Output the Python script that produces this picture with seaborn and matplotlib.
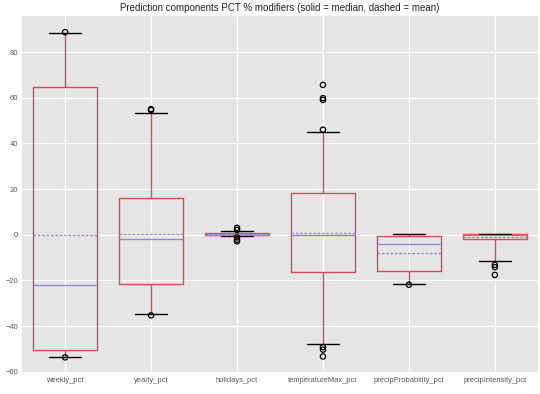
import matplotlib
matplotlib.use("Agg")
import matplotlib.pyplot as plt
import numpy as np
import pandas as pd
import seaborn as sns

categories = ["weekly_pct", "yearly_pct", "holidays_pct", "temperatureMax_pct",
              "precipProbability_pct", "precipIntensity_pct"]

# box body values (min/whisker, quartiles, median, max/whisker)
weekly_pct = [-53.5, -52.0, -50.4, -45.0, -22.1, -10.0, 64.6, 79.9, 88.5]
yearly_pct = [-34.7, -28.0, -21.5, -10.0, -1.7, 4.0, 15.9, 24.3, 53.5]
holidays_pct = [-0.4, -0.2, 0.0, 0.0, 0.0, 0.3, 0.6, 1.0, 1.6]
temperatureMax_pct = [-47.8, -30.0, -16.3, -8.0, -0.3, 9.0, 18.4, 35.6, 44.8]
precipProbability_pct = [-21.6, -18.0, -16.1, -8.0, -4.2, -2.0, -0.6, -0.1, 0.2]
precipIntensity_pct = [-11.7, -2.0, -2.0, -2.0, -2.0, -0.5, 0.0, 0.0, 0.0,
                       0.1, 0.2, 0.2, 0.2, 0.2, 0.2, 0.2, 0.2]

# outlier points
weekly_fliers = [88.7, -53.7]
yearly_fliers = [54.6, 55.0, -35.3]
holidays_fliers = [3.0, 2.1, -1.2, -2.2, -2.9]
temperatureMax_fliers = [46.0, 59.0, 59.8, 65.6, -49.2, -50.3, -53.3]
precipProbability_fliers = [-21.9]
precipIntensity_fliers = [-13.2, -14.2, -17.6]

title = "Prediction components PCT % modifiers (solid = median, dashed = mean)"

body = [weekly_pct, yearly_pct, holidays_pct, temperatureMax_pct,
        precipProbability_pct, precipIntensity_pct]
flier = [weekly_fliers, yearly_fliers, holidays_fliers, temperatureMax_fliers,
         precipProbability_fliers, precipIntensity_fliers]

box_df = pd.DataFrame({
    "component": [c for c, vals in zip(categories, body) for _ in vals],
    "value": [v for vals in body for v in vals],
})
flier_df = pd.DataFrame({
    "component": [c for c, vals in zip(categories, flier) for _ in vals],
    "value": [v for vals in flier for v in vals],
})

RED = "#E04858"
PURPLE = "#8A84E0"

sns.set_theme(style="darkgrid", rc={
    "axes.facecolor": "#E5E5E5",
    "figure.facecolor": "white",
    "grid.color": "white",
    "grid.linewidth": 0.8,
    "axes.edgecolor": "white",
    "xtick.color": "#555555",
    "ytick.color": "#555555",
})
plt.rcParams["font.family"] = ["Liberation Sans", "DejaVu Sans"]

fig, ax = plt.subplots(figsize=(5.4, 3.94), dpi=100)
fig.subplots_adjust(left=0.041, right=0.996, top=0.959, bottom=0.053)

sns.boxplot(data=box_df, x="component", y="value", order=categories,
            fill=False, color=RED, width=0.75, whis=(0, 100), showfliers=False,
            showmeans=True, meanline=True, linewidth=1.0,
            medianprops=dict(color=PURPLE, linewidth=0.9),
            whiskerprops=dict(color=RED, linewidth=1.0),
            capprops=dict(color="black", linewidth=1.0),
            meanprops=dict(color=PURPLE, linestyle=(0, (2, 1.5)), linewidth=0.9),
            ax=ax)

n_before = len(ax.collections)
sns.stripplot(data=flier_df, x="component", y="value", order=categories,
              jitter=False, color="black", size=3.8, linewidth=0.9,
              edgecolor="black", ax=ax)
for coll in ax.collections[n_before:]:
    coll.set_facecolor("none")
    coll.set_edgecolor("black")

ax.set_ylim(-60.6, 95.7)
ax.set_yticks(np.arange(-60, 81, 20))
ax.set_xlim(-0.5, 5.5)
ax.xaxis.grid(True)
ax.yaxis.grid(True)
ax.set_axisbelow(True)
ax.set_xlabel("")
ax.set_ylabel("")
ax.tick_params(axis="both", length=0, labelsize=5.4, pad=3)
for s in ax.spines.values():
    s.set_visible(False)
ax.set_title(title, fontsize=7.0, color="#222222", pad=4)

fig.savefig("out.png", dpi=100)
